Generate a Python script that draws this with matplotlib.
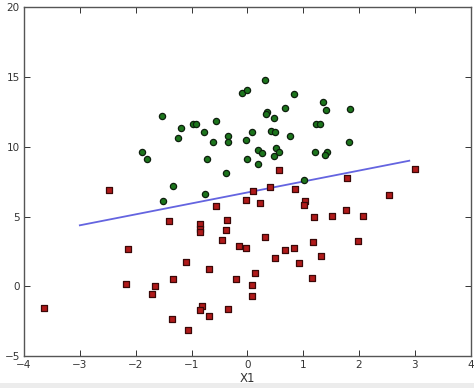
import matplotlib
matplotlib.use("Agg")
import matplotlib.pyplot as plt
from matplotlib.patches import Rectangle

# Class 1 (green circles)
green_x = [-1.52, -1.89, -1.79, -1.24, -1.19, -0.97, -0.92, -0.78, -0.57, -0.62,
           -0.73, -0.35, -0.35, -0.39, -1.33, -1.51, -0.75, -0.10, -0.01, 0.32,
           -0.03, 0.08, -0.01, 0.19, 0.27, 0.19, 0.36, 0.34, 0.48, 0.67,
           0.83, 0.42, 0.50, 0.76, 0.52, 0.47, 0.57, 1.35, 1.40, 1.23,
           1.30, 1.83, 1.82, 1.22, 1.42, 1.39, 1.01]
green_y = [12.20, 9.60, 9.14, 10.60, 11.34, 11.60, 11.60, 11.06, 11.82, 10.36,
           9.14, 10.75, 10.36, 8.09, 7.18, 6.09, 6.59, 13.83, 14.09, 14.78,
           10.46, 11.06, 9.12, 9.76, 9.57, 8.76, 12.49, 12.32, 12.08, 12.78,
           13.78, 11.10, 11.03, 10.75, 9.94, 9.36, 9.60, 13.21, 12.66, 11.63,
           11.63, 12.73, 10.32, 9.62, 9.65, 9.38, 7.59]

# Class 0 (red squares)
red_x = [-3.65, -2.47, -2.13, -2.17, -1.66, -1.70, -1.34, -1.35, -1.40, -1.10,
         -1.07, -0.85, -0.85, -0.85, -0.82, -0.84, -0.68, -0.69, -0.57, -0.36,
         -0.39, -0.45, -0.35, -0.20, -0.15, -0.03, -0.02, 0.10, 0.23, 0.08,
         0.09, 0.13, 0.32, 0.41, 0.56, 0.49, 0.67, 0.83, 0.85, 0.93,
         1.04, 1.01, 1.19, 1.18, 1.32, 1.15, 1.51, 1.76, 1.79, 2.07,
         1.99, 2.53, 3.01]
red_y = [-1.58, 6.90, 2.70, 0.16, 0.02, -0.53, 0.50, -2.37, 4.70, 1.72,
         -3.16, 4.44, 4.12, 3.86, -1.44, -1.71, 1.24, -2.14, 5.77, 4.77,
         4.03, 3.34, -1.66, 0.50, 2.91, 2.72, 6.19, 6.85, 5.97, 0.09,
         -0.67, 0.95, 3.56, 7.09, 8.33, 2.00, 2.60, 2.72, 6.95, 1.64,
         6.14, 5.83, 4.99, 3.20, 2.20, 0.59, 5.06, 5.49, 7.76, 5.06,
         3.27, 6.51, 8.43]

# Decision boundary endpoints
line_x = [-3.0, 2.9]
line_y = [4.37, 9.0]

x_ticks = [-4, -3, -2, -1, 0, 1, 2, 3, 4]
y_ticks = [-5, 0, 5, 10, 15, 20]

W, H = 474, 388
fig = plt.figure(figsize=(W / 100, H / 100), dpi=100)
fig.patch.set_facecolor("white")
ax = fig.add_axes([24 / W, (H - 356) / H, (470.7 - 24) / W, (356 - 7.3) / H])

ax.scatter(red_x, red_y, s=13, c="#b01a1a", marker="s", edgecolors="#3a0808",
           linewidths=0.9, zorder=3)
ax.scatter(green_x, green_y, s=20, c="#1c751c", marker="o", edgecolors="#0d1f0d",
           linewidths=0.9, zorder=3)
ax.plot(line_x, line_y, color="#6464e0", linewidth=1.3, zorder=2)

ax.set_xlim(-4, 4)
ax.set_ylim(-5, 20)
ax.set_xticks(x_ticks)
ax.set_yticks(y_ticks)
ax.set_xticklabels([str(t).replace("-", "\u2212") for t in x_ticks])
ax.set_yticklabels([str(t).replace("-", "\u2212") for t in y_ticks])
ax.tick_params(direction="in", length=4, width=0.7, top=True, right=True,
               labelsize=7.5, colors="#333333", pad=3)
for s in ax.spines.values():
    s.set_color("#555555")
    s.set_linewidth(1.0)
ax.set_xlabel("X1", fontsize=8.5, color="#333333", labelpad=1)

fig.patches.append(Rectangle((0, 0), 1, 5 / H, transform=fig.transFigure,
                             facecolor="#ececec", edgecolor="none", zorder=0))

fig.savefig("out.png", dpi=100)
